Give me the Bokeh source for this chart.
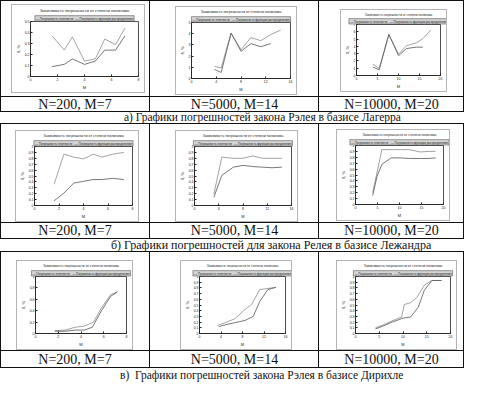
from bokeh.plotting import figure
from bokeh.layouts import column, row
from bokeh.models import Div, Spacer, Title, FixedTicker, Range1d
from bokeh.embed import file_html
from bokeh.resources import INLINE

# ---------------- data ----------------
n_labels = ["N=200, M=7", "N=5000, M=14", "N=10000, M=20"]
captions = [
    "а) Графики погрешностей закона Рэлея в базисе Лагерра",
    "б) Графики погрешностей для закона Релея в базисе Лежандра",
    "в)  Графики погрешностей закона Рэлея в базисе Дирихле",
]
plot_title = "Зависимость погрешности от степени полинома"
legend_labels = ["Погрешность плотности", "Погрешность функции распределения"]
x_label = "M"
y_label = "δ, %"

# a) Laguerre basis
lag200_x = [1.6, 2.5, 3.1, 4.0, 4.8, 5.5, 6.3, 7.0]
lag200_up = [0.37, 0.24, 0.36, 0.14, 0.16, 0.34, 0.29, 0.44]
lag200_lo = [0.09, 0.11, 0.16, 0.11, 0.14, 0.24, 0.24, 0.37]
lag5000_x_up = [3.7, 4.8, 6.4, 8.0, 9.6, 11.2, 12.8, 14.4]
lag5000_up = [1.08, 0.95, 4.05, 2.57, 3.65, 3.38, 3.92, 4.32]
lag5000_x_lo = [3.7, 4.8, 6.4, 8.0, 9.6, 11.2, 12.8]
lag5000_lo = [0.81, 0.54, 4.05, 2.43, 3.11, 2.84, 3.11]
lag10000_x_up = [3.9, 5.4, 7.7, 10.0, 11.9, 14.2, 15.8, 17.7]
lag10000_up = [1.56, 0.97, 5.64, 2.92, 4.09, 4.47, 5.06, 6.23]
lag10000_x_lo = [3.9, 5.4, 7.7, 10.0, 11.9, 14.2, 15.8]
lag10000_lo = [1.17, 0.78, 5.64, 2.72, 3.70, 3.89, 3.89]

# b) Legendre basis
leg200_x = [1.6, 2.4, 3.2, 4.0, 4.8, 5.5, 6.4, 7.3]
leg200_up = [0.36, 0.87, 0.82, 0.79, 0.87, 0.82, 0.87, 0.90]
leg200_lo = [0.08, 0.21, 0.38, 0.41, 0.44, 0.44, 0.46, 0.44]
leg5000_x = [3.2, 4.5, 6.4, 8.0, 9.6, 11.2, 12.8, 14.4]
leg5000_up = [0.19, 0.82, 0.80, 0.80, 0.84, 0.80, 0.80, 0.80]
leg5000_lo = [0.14, 0.51, 0.65, 0.68, 0.66, 0.65, 0.64, 0.65]
leg10000_x_up = [3.9, 6.0, 8.1, 10.2, 12.3, 14.7, 16.5, 18.2]
leg10000_up = [0.20, 0.93, 0.93, 0.93, 0.93, 0.89, 0.90, 0.90]
leg10000_x_lo = [3.9, 4.9, 6.0, 8.1, 10.2, 12.3, 14.7, 16.5, 18.2]
leg10000_lo = [0.15, 0.48, 0.68, 0.79, 0.79, 0.78, 0.78, 0.78, 0.79]

# c) Dirichlet basis
dir200_x_up = [1.7, 2.6, 3.5, 4.3, 5.1, 5.8, 6.6, 7.2]
dir200_up = [0.05, 0.06, 0.11, 0.13, 0.20, 0.45, 0.68, 0.73]
dir200_x_lo = [1.7, 2.6, 3.5, 4.3, 5.0, 5.8, 6.6, 7.2]
dir200_lo = [0.04, 0.04, 0.06, 0.06, 0.11, 0.40, 0.65, 0.73]
dir5000_x_up = [3.3, 4.8, 6.6, 8.2, 9.7, 11.2, 12.7, 14.2]
dir5000_up = [0.14, 0.19, 0.26, 0.40, 0.51, 0.77, 0.79, 0.81]
dir5000_x_lo = [3.6, 5.1, 6.6, 8.5, 10.0, 11.2, 12.7, 14.2]
dir5000_lo = [0.12, 0.16, 0.19, 0.23, 0.30, 0.56, 0.77, 0.81]
dir10000_x_up = [4.2, 5.8, 7.7, 9.7, 10.3, 11.6, 12.9, 14.5, 16.1, 18.1]
dir10000_up = [0.10, 0.15, 0.22, 0.29, 0.51, 0.54, 0.63, 0.85, 0.93, 0.93]
dir10000_x_lo = [4.2, 5.8, 7.7, 10.0, 11.6, 13.2, 14.5, 16.1, 18.1]
dir10000_lo = [0.08, 0.13, 0.20, 0.27, 0.29, 0.46, 0.76, 0.93, 0.93]

x_ranges = [(0, 8), (0, 16), (0, 20)]
x_ticks = [[0, 2, 4, 6, 8], [0, 4, 8, 12, 16], [0, 5, 10, 15, 20]]
y_ranges = [[(0, 0.5), (0, 5), (0, 7)], [(0, 1), (0, 1), (0, 1)], [(0, 1), (0, 1), (0, 1)]]
y_ticks = [
    [[0, 0.1, 0.2, 0.3, 0.4, 0.5], [0, 1, 2, 3, 4, 5], [0, 1, 2, 3, 4, 5, 6, 7]],
    [[i / 10 for i in range(11)]] * 3,
    [[0, 0.2, 0.4, 0.6, 0.8, 1.0], [i / 10 for i in range(11)], [i / 10 for i in range(11)]],
]
series = [
    [(lag200_x, lag200_up, lag200_x, lag200_lo),
     (lag5000_x_up, lag5000_up, lag5000_x_lo, lag5000_lo),
     (lag10000_x_up, lag10000_up, lag10000_x_lo, lag10000_lo)],
    [(leg200_x, leg200_up, leg200_x, leg200_lo),
     (leg5000_x, leg5000_up, leg5000_x, leg5000_lo),
     (leg10000_x_up, leg10000_up, leg10000_x_lo, leg10000_lo)],
    [(dir200_x_up, dir200_up, dir200_x_lo, dir200_lo),
     (dir5000_x_up, dir5000_up, dir5000_x_lo, dir5000_lo),
     (dir10000_x_up, dir10000_up, dir10000_x_lo, dir10000_lo)],
]

# ---------------- layout geometry ----------------
col_widths = [150, 169, 145]
plot_heights = [97, 100, 100]
ncap_heights = [15, 16, 17]
cap_heights = [11, 12, 15]
cap_offsets = [124, 111, 120]
cap_widths = [265, 306, 270]
cap_sizes = ["11.5px", "12px", "11.5px"]
# window placement inside cell: (left, width, top, height)
windows = [
    [(12, 132, 5, 87), (26, 120, 7, 87), (22, 105, 10, 81)],
    [(16, 122, 8, 90), (26, 121, 8, 90), (18, 112, 7, 90)],
    [(17, 115, 10, 88), (31, 110, 10, 88), (18, 119, 10, 88)],
]

SERIF = "Liberation Serif"
SANS = "Liberation Sans"
LINE = "#111"
NBSP = "\u00a0"


def make_fig(w, h, xr, xt, yr, yt, s):
    p = figure(width=w, height=h, output_backend="svg", toolbar_location=None,
               x_range=Range1d(*xr), y_range=Range1d(*yr),
               min_border_left=14, min_border_right=6, min_border_top=4, min_border_bottom=3)
    p.margin = 0
    p.background_fill_color = "white"
    p.border_fill_color = "white"
    p.title.text = ""
    p.title.standoff = 0
    p.title.offset = 0
    frame_w = w - 24
    a = "— " + legend_labels[0]
    b = "— " + legend_labels[1]
    est = (len(a) + len(b)) * 1.6
    gap = max(3, int((frame_w - 14 - est) / 0.85))
    leg_title = Title(text=a + NBSP * gap + b,
                      align="center", text_font=SANS, text_font_size="3px",
                      text_font_style="normal", text_color="#222",
                      background_fill_color="#d4d4d4", border_line_color="#555",
                      border_line_width=0.6, padding=1, standoff=1, offset=0)
    p.add_layout(leg_title, "above")
    tsize = round(min(4.4, frame_w / 27.0), 1)
    main_title = Title(text=plot_title, align="center", text_font=SANS,
                       text_font_size=f"{tsize}px",
                       text_font_style="normal", text_color="#222", standoff=1, offset=0)
    p.add_layout(main_title, "above")
    p.xgrid.visible = False
    p.ygrid.visible = False
    p.outline_line_color = "#222"
    p.outline_line_width = 0.8
    p.xaxis.ticker = FixedTicker(ticks=xt)
    p.yaxis.ticker = FixedTicker(ticks=yt)
    p.xaxis.axis_label = x_label
    p.yaxis.axis_label = y_label
    for ax in (p.xaxis[0], p.yaxis[0]):
        ax.major_label_text_font_size = "3.5px"
        ax.major_label_text_font = SANS
        ax.major_label_text_color = "#222"
        ax.major_label_standoff = 1
        ax.major_tick_in = 2
        ax.major_tick_out = 0
        ax.minor_tick_in = 0
        ax.minor_tick_out = 0
        ax.axis_line_color = "#222"
        ax.axis_line_width = 0.8
        ax.major_tick_line_color = "#222"
        ax.axis_label_text_font_size = "4px"
        ax.axis_label_text_font = SANS
        ax.axis_label_text_font_style = "normal"
        ax.axis_label_text_color = "#222"
        ax.axis_label_standoff = 1
    xu, yu, xl, yl = s
    p.line(xu, yu, line_color="#8c8c8c", line_width=0.8)
    p.line(xl, yl, line_color="#555555", line_width=0.8)
    p.styles = {"outline": "1px solid #b4b4b4"}
    return p


def shadow(first_col, top_line):
    parts = [f"inset -1px -1px 0 0 {LINE}"]
    if top_line:
        parts.append(f"inset 0 1px 0 0 {LINE}")
    if first_col:
        parts.append(f"inset 1px 0 0 0 {LINE}")
    return ", ".join(parts)


blocks = []
for i in range(3):
    plot_cells = []
    cap_cells = []
    for j in range(3):
        w = col_widths[j]
        h = plot_heights[i]
        left, ww, top, wh = windows[i][j]
        fig = make_fig(ww, wh, x_ranges[j], x_ticks[j], y_ranges[i][j], y_ticks[i][j], series[i][j])
        right = max(1, w - left - ww)
        bottom = max(1, h - top - wh)
        inner = row(Spacer(width=left, height=wh), fig, Spacer(width=right, height=wh), spacing=0)
        cell = column(Spacer(width=w, height=top), inner, Spacer(width=w, height=bottom), spacing=0)
        cell.styles = {"box-shadow": shadow(j == 0, True)}
        plot_cells.append(cell)
        hn = ncap_heights[i]
        d = Div(text=n_labels[j], width=w, height=hn, margin=0,
                styles={"font-family": SERIF, "font-size": "14px", "line-height": f"{hn}px",
                        "text-align": "center", "color": "#111",
                        "box-shadow": shadow(j == 0, False)})
        cap_cells.append(d)
    hc = cap_heights[i]
    cap = Div(text=captions[i], width=cap_widths[i], height=hc, margin=0,
              styles={"font-family": SERIF, "font-size": cap_sizes[i], "line-height": f"{hc}px",
                      "text-align": "center", "color": "#111", "white-space": "pre"})
    cap_row = row(Spacer(width=cap_offsets[i], height=hc), cap,
                  Spacer(width=sum(col_widths) - cap_offsets[i] - cap_widths[i], height=hc), spacing=0)
    blocks.append(column(row(*plot_cells, spacing=0), row(*cap_cells, spacing=0), cap_row, spacing=0))

layout = column(*blocks, spacing=0)

open("out.html", "w").write(file_html(layout, INLINE))
